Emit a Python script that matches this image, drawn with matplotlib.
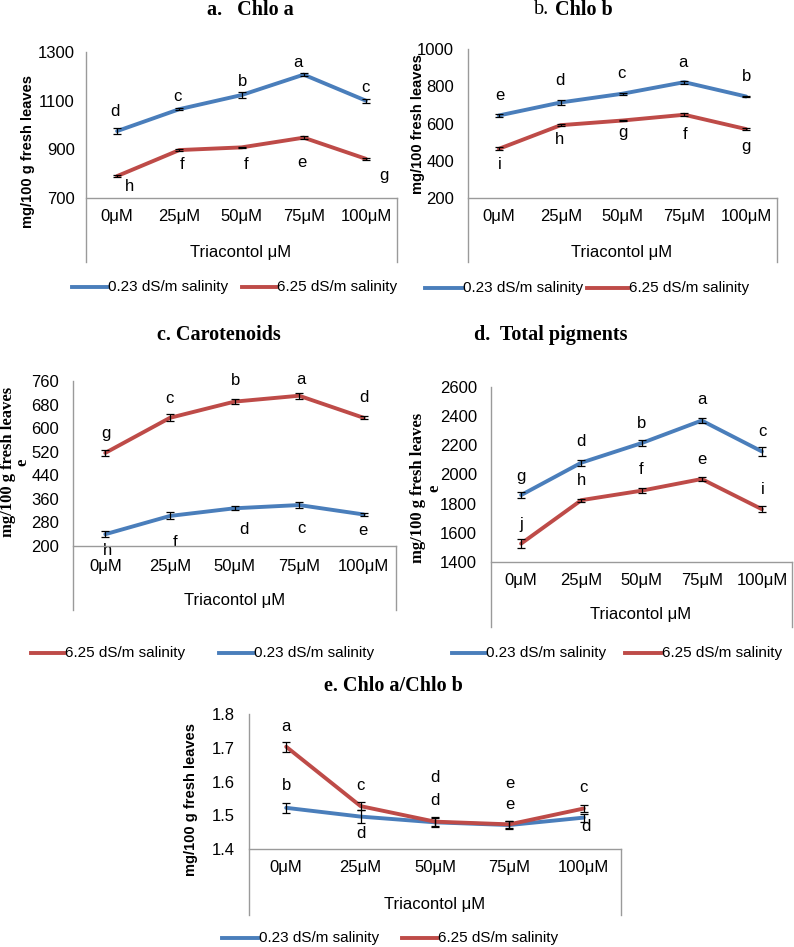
import matplotlib.pyplot as plt
from matplotlib.lines import Line2D

W, H = 794, 947
SANS = ['Liberation Sans', 'DejaVu Sans']
SERIF = ['Liberation Serif', 'DejaVu Serif']
BLUE = '#4A7EBB'
RED = '#BE4B48'
GRAY = '#9A9A9A'

conc = ['0μM', '25μM', '50μM', '75μM', '100μM']
low_label = '0.23 dS/m salinity'
high_label = '6.25 dS/m salinity'

# a. Chlo a
chla_low = [975, 1065, 1123, 1207, 1100]
chla_low_err = [12, 3, 12, 5, 8]
chla_low_sig = ['d', 'c', 'b', 'a', 'c']
chla_high = [790, 897, 908, 948, 861]
chla_high_err = [3, 3, 2, 6, 3]
chla_high_sig = ['h', 'f', 'f', 'e', 'g']

# b. Chlo b
chlb_low = [643, 713, 760, 822, 745]
chlb_low_err = [10, 12, 5, 8, 5]
chlb_low_sig = ['e', 'd', 'c', 'a', 'b']
chlb_high = [464, 591, 616, 647, 570]
chlb_high_err = [8, 5, 3, 8, 7]
chlb_high_sig = ['i', 'h', 'g', 'f', 'g']

# c. Carotenoids
car_low = [240, 302, 328, 339, 307]
car_low_err = [10, 12, 7, 10, 5]
car_low_sig = ['h', 'f', 'd', 'c', 'e']
car_high = [516, 635, 690, 710, 635]
car_high_err = [10, 12, 8, 10, 5]
car_high_sig = ['g', 'c', 'b', 'a', 'd']

# d. Total pigments
tot_low = [1859, 2081, 2215, 2370, 2158]
tot_low_err = [20, 20, 20, 15, 30]
tot_low_sig = ['g', 'd', 'b', 'a', 'c']
tot_high = [1526, 1824, 1889, 1969, 1762]
tot_high_err = [30, 10, 15, 15, 20]
tot_high_sig = ['j', 'h', 'f', 'e', 'i']

# e. Chlo a / Chlo b
ratio_low = [1.522, 1.496, 1.479, 1.471, 1.493]
ratio_low_err = [0.015, 0.02, 0.012, 0.012, 0.012]
ratio_low_sig = ['b', 'd', 'd', 'e', 'd']
ratio_high = [1.703, 1.527, 1.481, 1.473, 1.52]
ratio_high_err = [0.015, 0.012, 0.015, 0.01, 0.01]
ratio_high_sig = ['a', 'c', 'd', 'e', 'c']

FS = 12  # tick / letter / axis title size


def fx(px):
    return px / W


def fy(py):
    return 1 - py / H


def fig_line(fig, xs, ys, **kw):
    fig.add_artist(Line2D([fx(x) for x in xs], [fy(y) for y in ys],
                          transform=fig.transFigure, **kw))


def draw_panel(fig, box, bottom, ylim, step, series, ypad=10, xpad=8,
               fmt='{:g}'):
    x0, y0, x1, y1 = box
    ax = fig.add_axes([fx(x0), fy(y1), (x1 - x0) / W, (y1 - y0) / H])
    ax.patch.set_alpha(0)
    for s in ax.spines.values():
        s.set_visible(False)
    ax.set_xlim(-0.5, 4.5)
    ax.set_ylim(*ylim)
    n = int(round((ylim[1] - ylim[0]) / step))
    ticks = [ylim[0] + i * step for i in range(n + 1)]
    ax.set_yticks(ticks, [fmt.format(t) for t in ticks])
    ax.set_xticks(range(len(conc)), conc)
    ax.tick_params(axis='y', length=0, pad=ypad, labelsize=FS)
    ax.tick_params(axis='x', length=0, pad=xpad, labelsize=FS)
    for lab in ax.get_xticklabels() + ax.get_yticklabels():
        lab.set_family(SANS)

    # Excel-like frame around the category axis
    fig_line(fig, [x0, x0], [y0, bottom], color=GRAY, lw=1)
    fig_line(fig, [x0, x1], [y1, y1], color=GRAY, lw=1)
    fig_line(fig, [x1, x1], [y1, bottom], color=GRAY, lw=1)

    xs = range(len(conc))
    for vals, errs, color, sig, offs in series:
        ax.plot(xs, vals, color=color, lw=2.8, solid_joinstyle='round',
                solid_capstyle='round', zorder=3, clip_on=False)
        ax.errorbar(xs, vals, yerr=errs, fmt='none', ecolor='black',
                    elinewidth=0.9, capsize=2.6, capthick=0.9, zorder=4,
                    clip_on=False)
        for i, (v, l, (dx, dy)) in enumerate(zip(vals, sig, offs)):
            ax.annotate(l, (i, v), xytext=(dx, dy), textcoords='offset pixels',
                        ha='center', va='center', fontsize=FS, family=SANS,
                        annotation_clip=False)
    return ax


def legend_item(fig, xa, xb, y, color, label):
    fig_line(fig, [xa, xb], [y, y], color=color, lw=2.8)
    fig.text(fx(xb + 1), fy(y), label, ha='left', va='center',
             fontsize=11, family=SANS)


fig = plt.figure(figsize=(W / 100, H / 100), dpi=100)

# ---- a. Chlo a
draw_panel(fig, (86, 52, 397, 198), 262, (700, 1300), 200, [
    (chla_low, chla_low_err, BLUE, chla_low_sig,
     [(-2, 20), (-2, 13), (1, 14), (-6, 12), (0, 13)]),
    (chla_high, chla_high_err, RED, chla_high_sig,
     [(12, -10), (3, -14), (5, -17), (-2, -25), (18, -17)]),
], ypad=8)
fig.text(fx(250), fy(10), 'a.   Chlo a', ha='center', va='center',
         fontsize=14.5, fontweight='bold', family=SERIF)
fig.text(fx(28), fy(152), 'mg/100 g fresh leaves', rotation=90, ha='center',
         va='center', fontsize=10.5, fontweight='bold', family=SANS)
fig.text(fx(241), fy(253), 'Triacontol μM', ha='center', va='center',
         fontsize=FS, family=SANS)
legend_item(fig, 72, 107, 287, BLUE, low_label)
legend_item(fig, 242, 276, 287, RED, high_label)

# ---- b. Chlo b
draw_panel(fig, (468, 49, 777, 198), 262, (200, 1000), 200, [
    (chlb_low, chlb_low_err, BLUE, chlb_low_sig,
     [(1, 20), (-1, 22), (-1, 20), (-1, 20), (0, 20)]),
    (chlb_high, chlb_high_err, RED, chlb_high_sig,
     [(1, -16), (-1, -14), (0, -12), (1, -20), (0, -17)]),
])
fig.text(fx(534), fy(10), 'b.', ha='left', va='center', fontsize=14.5,
         family=SERIF)
fig.text(fx(555), fy(10), 'Chlo b', ha='left', va='center', fontsize=14.5,
         fontweight='bold', family=SERIF)
fig.text(fx(418), fy(124), 'mg/100 fresh leaves', rotation=90, ha='center',
         va='center', fontsize=10.5, fontweight='bold', family=SANS)
fig.text(fx(622), fy(252), 'Triacontol μM', ha='center', va='center',
         fontsize=FS, family=SANS)
legend_item(fig, 425, 462, 288, BLUE, low_label)
legend_item(fig, 587, 628, 288, RED, high_label)

# ---- c. Carotenoids
draw_panel(fig, (73, 381, 396, 546), 610, (200, 760), 80, [
    (car_high, car_high_err, RED, car_high_sig,
     [(1, 19), (0, 19), (1, 21), (2, 16), (0, 20)]),
    (car_low, car_low_err, BLUE, car_low_sig,
     [(2, -16), (5, -27), (9, -21), (2, -23), (-1, -16)]),
], xpad=9.5)
fig.text(fx(219), fy(335), 'c. Carotenoids', ha='center', va='center',
         fontsize=14.5, fontweight='bold', family=SERIF)
fig.text(fx(15), fy(462), 'mg/100 g fresh leaves\ne', rotation=90,
         ha='center', va='center', multialignment='center', linespacing=0.9,
         fontsize=12, fontweight='bold', family=SERIF)
fig.text(fx(235), fy(600), 'Triacontol μM', ha='center', va='center',
         fontsize=FS, family=SANS)
legend_item(fig, 31, 64, 653, RED, high_label)
legend_item(fig, 219, 253, 653, BLUE, low_label)

# ---- d. Total pigments
draw_panel(fig, (491, 387, 792, 562), 627, (1400, 2600), 200, [
    (tot_low, tot_low_err, BLUE, tot_low_sig,
     [(0, 19), (0, 21), (0, 20), (0, 21), (1, 20)]),
    (tot_high, tot_high_err, RED, tot_high_sig,
     [(0, 19), (0, 20), (0, 21), (0, 20), (1, 20)]),
])
fig.text(fx(551), fy(335), 'd.  Total pigments', ha='center', va='center',
         fontsize=14.5, fontweight='bold', family=SERIF)
fig.text(fx(426), fy(488), 'mg/100 g fresh leaves\ne', rotation=90,
         ha='center', va='center', multialignment='center', linespacing=1.0,
         fontsize=12, fontweight='bold', family=SERIF)
fig.text(fx(641), fy(615), 'Triacontol μM', ha='center', va='center',
         fontsize=FS, family=SANS)
legend_item(fig, 452, 485, 653, BLUE, low_label)
legend_item(fig, 625, 661, 653, RED, high_label)

# ---- e. Chlo a/Chlo b
draw_panel(fig, (249, 714, 621, 849), 915, (1.4, 1.8), 0.1, [
    (ratio_low, ratio_low_err, BLUE, ratio_low_sig,
     [(0, 22), (0, -17), (0, 22), (0, 21), (2, -9)]),
    (ratio_high, ratio_high_err, RED, ratio_high_sig,
     [(0, 20), (0, 21), (0, 44), (0, 41), (0, 21)]),
], fmt='{:.1f}')
fig.text(fx(393), fy(686), 'e. Chlo a/Chlo b', ha='center', va='center',
         fontsize=14.5, fontweight='bold', family=SERIF)
fig.text(fx(191), fy(800), 'mg/100 g fresh leaves', rotation=90, ha='center',
         va='center', fontsize=10.5, fontweight='bold', family=SANS)
fig.text(fx(435), fy(904), 'Triacontol μM', ha='center', va='center',
         fontsize=FS, family=SANS)
legend_item(fig, 222, 258, 938, BLUE, low_label)
legend_item(fig, 402, 437, 938, RED, high_label)

fig.savefig('out.png', dpi=100, facecolor='white')
